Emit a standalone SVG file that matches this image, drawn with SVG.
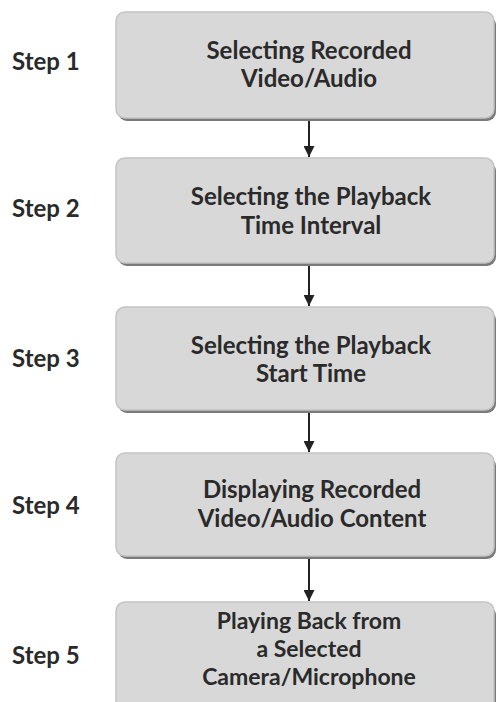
<svg xmlns="http://www.w3.org/2000/svg" width="497" height="702" viewBox="0 0 497 702">
<style>
.box{fill:#d8d8d8;stroke:#c4c4c4;stroke-width:1.5}
.shadow{fill:#7a7a7a}
.t{font-family:Lato,"Liberation Sans",sans-serif;font-weight:bold;font-size:24px;fill:#2a2a2a;text-anchor:middle}
.t5{font-size:23px}
.s{font-family:Lato,"Liberation Sans",sans-serif;font-weight:bold;font-size:24px;fill:#2a2a2a}
.c{stroke:#222;stroke-width:2;fill:none}
</style>
<defs>
<marker id="ah" markerWidth="11" markerHeight="11" refX="10" refY="5" orient="auto" markerUnits="userSpaceOnUse" viewBox="0 0 10 10">
<path d="M0,0 L10,5 L0,10 Z" fill="#222"/>
</marker>
</defs>
<rect width="497" height="702" fill="#fff"/>
<g id="connectors">
<line class="c" x1="309" y1="121" x2="309" y2="157" marker-end="url(#ah)"/>
<line class="c" x1="309" y1="266" x2="309" y2="306" marker-end="url(#ah)"/>
<line class="c" x1="309" y1="413" x2="309" y2="452" marker-end="url(#ah)"/>
<line class="c" x1="309" y1="559" x2="309" y2="601" marker-end="url(#ah)"/>
</g>
<g id="step1">
<rect class="shadow" x="118" y="16" width="378" height="105" rx="9"/>
<rect class="box" x="116" y="12" width="378" height="106" rx="9"/>
<text class="t" x="309" y="59">Selecting Recorded</text>
<text class="t" x="309" y="87">Video/Audio</text>
<text class="s" x="12" y="70">Step 1</text>
</g>
<g id="step2">
<rect class="shadow" x="118" y="162" width="378" height="104" rx="9"/>
<rect class="box" x="116" y="158" width="378" height="105" rx="9"/>
<text class="t" x="311" y="205">Selecting the Playback</text>
<text class="t" x="311" y="234">Time Interval</text>
<text class="s" x="12" y="217">Step 2</text>
</g>
<g id="step3">
<rect class="shadow" x="118" y="311" width="378" height="102" rx="9"/>
<rect class="box" x="116" y="307" width="378" height="103" rx="9"/>
<text class="t" x="311" y="354">Selecting the Playback</text>
<text class="t" x="311" y="382">Start Time</text>
<text class="s" x="12" y="367">Step 3</text>
</g>
<g id="step4">
<rect class="shadow" x="118" y="457" width="378" height="102" rx="9"/>
<rect class="box" x="116" y="453" width="378" height="103" rx="9"/>
<text class="t" x="312" y="498">Displaying Recorded</text>
<text class="t" x="312" y="527">Video/Audio Content</text>
<text class="s" x="12" y="514">Step 4</text>
</g>
<g id="step5">
<rect class="shadow" x="118" y="606" width="378" height="110" rx="9"/>
<rect class="box" x="116" y="602" width="378" height="110" rx="9"/>
<text class="t t5" x="309" y="629">Playing Back from</text>
<text class="t t5" x="309" y="657">a Selected</text>
<text class="t t5" x="309" y="685">Camera/Microphone</text>
<text class="s" x="12" y="664">Step 5</text>
</g>
</svg>
